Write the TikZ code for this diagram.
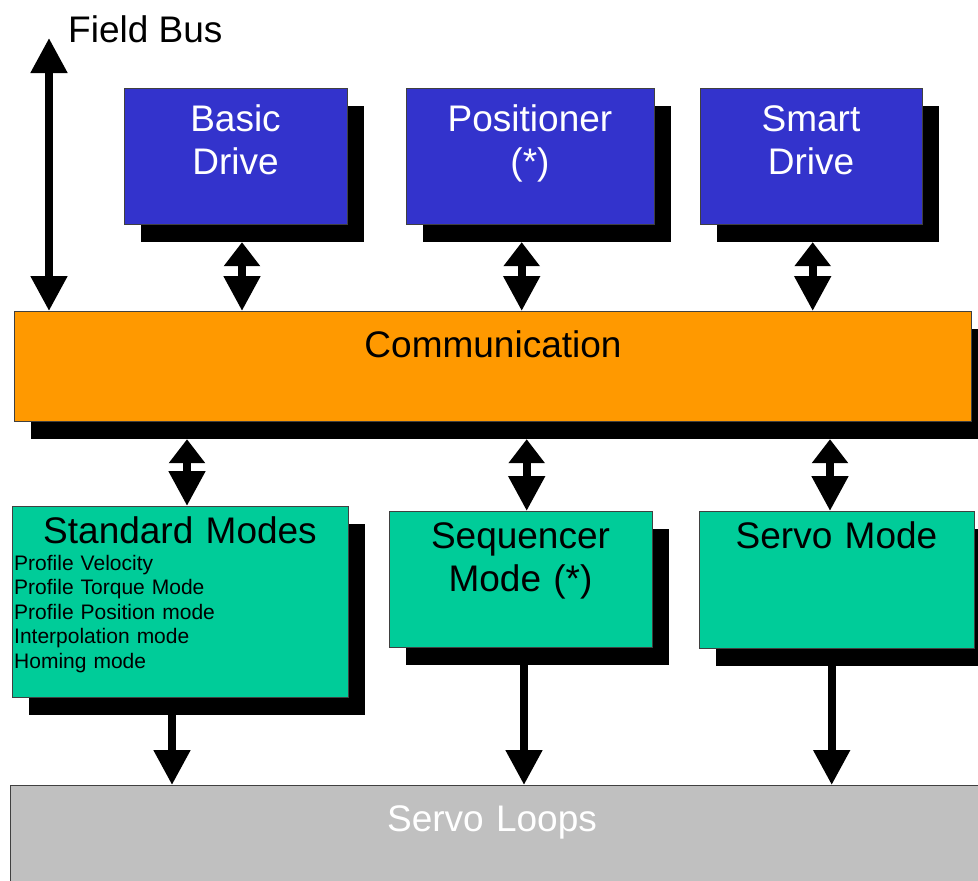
\documentclass[tikz,border=0pt]{standalone}
\usepackage{fontspec}
\setmainfont{Liberation Sans}
\usetikzlibrary{arrows.meta,shadows,calc}
\definecolor{drivebl}{HTML}{3333CC}
\definecolor{commor}{HTML}{FF9900}
\definecolor{modegr}{HTML}{00CC99}
\definecolor{loopgr}{HTML}{C0C0C0}
\tikzset{
  blk/.style={draw=black!75, line width=1.2pt, rectangle, inner sep=0pt, anchor=north west},
  shd/.style={general shadow={fill=black, shadow xshift=16pt, shadow yshift=-17pt}},
  bigtxt/.style={font=\fontsize{37}{43}\selectfont, align=center, text width=320pt, anchor=base, inner sep=0pt},
  smalltxt/.style={font=\fontsize{21}{24.5}\selectfont, align=left, text width=330pt, anchor=base west, inner sep=0pt},
  dbl/.style={line width=8pt, {Triangle[width=35pt,length=24pt]}-{Triangle[width=35pt,length=35pt]}},
  fbus/.style={line width=8pt, {Triangle[width=35pt,length=35pt]}-{Triangle[width=35pt,length=35pt]}},
  down/.style={line width=8pt, -{Triangle[width=35pt,length=35pt]}},
}
\begin{document}
\begin{tikzpicture}[x=1pt,y=-1pt]
\useasboundingbox (0,0) rectangle (978,881);
\clip (0,0) rectangle (978,881);

% drive profiles
\node[blk, shd, fill=drivebl, minimum width=223pt, minimum height=136pt] (basic) at (124,88) {};
\node[blk, shd, fill=drivebl, minimum width=248pt, minimum height=136pt] (posit) at (406,88) {};
\node[blk, shd, fill=drivebl, minimum width=222pt, minimum height=136pt] (smart) at (700,88) {};
\node[bigtxt, text=white] (basictxt) at (235.5,131) {Basic\\Drive};
\node[bigtxt, text=white] (posittxt) at (530,131) {Positioner\\(*)};
\node[bigtxt, text=white] (smarttxt) at (811,131) {Smart\\Drive};

% communication layer
\node[blk, shd, fill=commor, minimum width=957pt, minimum height=110pt] (comm) at (14,311) {};
\node[bigtxt] (commtxt) at (493,357) {Communication};

% operating modes
\node[blk, shd, fill=modegr, minimum width=336pt, minimum height=191pt] (std) at (12,506) {};
\node[blk, shd, fill=modegr, minimum width=263pt, minimum height=136pt] (seq) at (389,511) {};
\node[blk, shd, fill=modegr, minimum width=275pt, minimum height=137pt] (servo) at (699,511) {};
\node[bigtxt] (stdtxt) at (180,543) {Standard Modes};
\node[smalltxt] (stdlist) at (14,570) {Profile Velocity\\Profile Torque Mode\\Profile Position mode\\Interpolation mode\\Homing mode};
\node[bigtxt] (seqtxt) at (520.5,548) {Sequencer\\Mode (*)};
\node[bigtxt] (servotxt) at (836.5,548) {Servo Mode};

% servo loops
\node[blk, fill=loopgr, minimum width=990pt, minimum height=120pt] (loops) at (10,785) {};
\node[bigtxt, text=white] (loopstxt) at (492,831) {Servo Loops};

% field bus
\coordinate (fbtop) at (49,38);
\draw[fbus] (fbtop) -- (comm.north -| fbtop);
\node[font=\fontsize{37}{43}\selectfont, anchor=base west, inner sep=0pt] (fbtxt) at (68,42) {Field Bus};

% drives <-> communication
\coordinate (xa) at (242,0);
\coordinate (xb) at (521.7,0);
\coordinate (xc) at (812.7,0);
\draw[dbl] ($(basic.south -| xa)+(0,17)$) -- (comm.north -| xa);
\draw[dbl] ($(posit.south -| xb)+(0,17)$) -- (comm.north -| xb);
\draw[dbl] ($(smart.south -| xc)+(0,17)$) -- (comm.north -| xc);

% communication <-> modes
\coordinate (xd) at (187,0);
\coordinate (xe) at (526.7,0);
\coordinate (xf) at (830,0);
\draw[dbl] ($(comm.south -| xd)+(0,17)$) -- (std.north -| xd);
\draw[dbl] ($(comm.south -| xe)+(0,17)$) -- (seq.north -| xe);
\draw[dbl] ($(comm.south -| xf)+(0,17)$) -- (servo.north -| xf);

% modes -> servo loops
\coordinate (xg) at (172,0);
\coordinate (xh) at (524,0);
\coordinate (xi) at (831.7,0);
\draw[down] ($(std.south -| xg)+(0,17)$) -- (loops.north -| xg);
\draw[down] ($(seq.south -| xh)+(0,17)$) -- (loops.north -| xh);
\draw[down] ($(servo.south -| xi)+(0,17)$) -- (loops.north -| xi);
\end{tikzpicture}
\end{document}
